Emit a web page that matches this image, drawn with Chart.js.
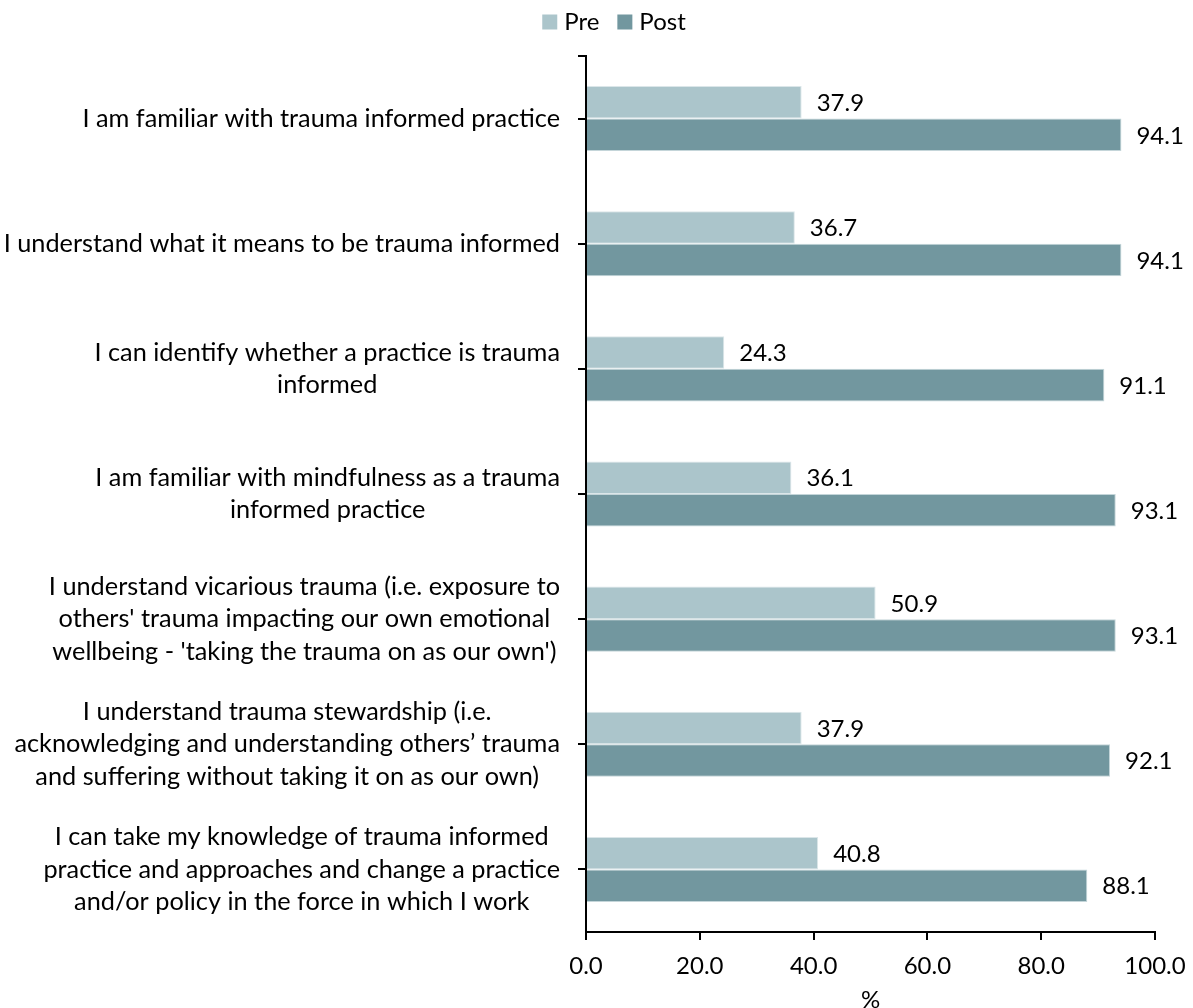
<!DOCTYPE html>
<html>
<head>
<meta charset="utf-8">
<script src="https://cdn.jsdelivr.net/npm/chart.js@4"></script>
<style>
    html, body { margin: 0; padding: 0; background: #fff; }
    #wrap { width: 1193px; height: 1008px; position: relative; }
</style>
</head>
<body>
<div id="wrap"><canvas id="chart-trauma"></canvas></div>
<script>
/* ============================================
   Trauma informed practice - pre / post survey
   ============================================ */

const statements = [
    ['I am familiar with trauma informed practice'],
    ['I understand what it means to be trauma informed'],
    ['I can identify whether a practice is trauma', 'informed'],
    ['I am familiar with mindfulness as a trauma', 'informed practice'],
    ['I understand vicarious trauma (i.e. exposure to', "others' trauma impacting our own emotional", "wellbeing - 'taking the trauma on as our own')"],
    ['I understand trauma stewardship (i.e.', 'acknowledging and understanding others\u2019 trauma', 'and suffering without taking it on as our own)'],
    ['I can take my knowledge of trauma informed', 'practice and approaches and change a practice', 'and/or policy in the force in which I work']
];

const preValues = [37.9, 36.7, 24.3, 36.1, 50.9, 37.9, 40.8];
const postValues = [94.1, 94.1, 91.1, 93.1, 93.1, 92.1, 88.1];

const xTicks = [0, 20, 40, 60, 80, 100];

const FONT = "Lato, 'Open Sans', sans-serif";
const FONT_SIZE = 24;
const LABEL_SIZE = 25.3;
const LINE_GAP = 32.5;

// Wrapped statements drawn as centred blocks, right edge next to the axis
const statementLabels = {
    id: 'statementLabels',
    afterDraw(chart) {
        const ctx = chart.ctx;
        const y = chart.scales.y;
        const right = chart.chartArea.left - 26;
        ctx.save();
        ctx.font = LABEL_SIZE + 'px ' + FONT;
        ctx.fillStyle = '#000';
        ctx.textAlign = 'center';
        ctx.textBaseline = 'middle';
        statements.forEach((lines, i) => {
            const cy = y.getPixelForValue(i);
            const w = Math.max(...lines.map(l => ctx.measureText(l).width));
            const cx = right - w / 2;
            const top = cy - (lines.length - 1) * LINE_GAP / 2;
            lines.forEach((l, j) => ctx.fillText(l, cx, top + j * LINE_GAP));
        });
        // small cap at the top of the category axis
        ctx.strokeStyle = '#000';
        ctx.lineWidth = 2;
        ctx.beginPath();
        ctx.moveTo(chart.chartArea.left - 8, chart.chartArea.top);
        ctx.lineTo(chart.chartArea.left, chart.chartArea.top);
        ctx.stroke();
        ctx.restore();
    }
};

// Legend row centred above the plot
const seriesLegend = {
    id: 'seriesLegend',
    afterDraw(chart) {
        const ctx = chart.ctx;
        const box = 15, gapText = 7, gapItem = 18, cy = 22;
        ctx.save();
        ctx.font = FONT_SIZE + 'px ' + FONT;
        ctx.textBaseline = 'middle';
        ctx.textAlign = 'left';
        const items = chart.data.datasets.map(ds => ({
            text: ds.label, color: ds.backgroundColor, w: ctx.measureText(ds.label).width
        }));
        const total = items.reduce((s, it) => s + box + gapText + it.w, 0) + gapItem * (items.length - 1);
        let x = 614 - total / 2;
        items.forEach(it => {
            ctx.fillStyle = it.color;
            ctx.fillRect(x, cy - box / 2, box, box);
            ctx.fillStyle = '#000';
            ctx.fillText(it.text, x + box + gapText, cy);
            x += box + gapText + it.w + gapItem;
        });
        ctx.restore();
    }
};

// Value labels just past the end of every bar
const valueLabels = {
    id: 'valueLabels',
    afterDatasetsDraw(chart) {
        const ctx = chart.ctx;
        ctx.save();
        ctx.font = FONT_SIZE + 'px ' + FONT;
        ctx.fillStyle = '#000';
        ctx.textAlign = 'left';
        ctx.textBaseline = 'middle';
        chart.data.datasets.forEach((ds, di) => {
            chart.getDatasetMeta(di).data.forEach((bar, i) => {
                ctx.fillText(ds.data[i].toFixed(1), bar.x + 15, bar.y + 1);
            });
        });
        ctx.restore();
    }
};

const ctx = document.getElementById('chart-trauma').getContext('2d');

new Chart(ctx, {
    type: 'bar',
    data: {
        labels: statements.map(s => s.join(' ')),
        datasets: [
            {
                label: 'Pre',
                data: preValues,
                backgroundColor: '#abc5cb',
                borderColor: '#dbe6e9',
                borderWidth: 1,
                categoryPercentage: 0.52,
                barPercentage: 1
            },
            {
                label: 'Post',
                data: postValues,
                backgroundColor: '#72979f',
                borderColor: '#c4d5d9',
                borderWidth: 1,
                categoryPercentage: 0.52,
                barPercentage: 1
            }
        ]
    },
    options: {
        indexAxis: 'y',
        responsive: true,
        maintainAspectRatio: false,
        animation: false,
        layout: { padding: { top: 56, right: 38, bottom: 0, left: 0 } },
        plugins: {
            tooltip: { enabled: false },
            legend: { display: false }
        },
        scales: {
            x: {
                min: 0,
                max: 100,
                afterBuildTicks: scale => { scale.ticks = xTicks.map(v => ({ value: v })); },
                afterFit: scale => {
                    scale.height = 76;
                    scale.paddingLeft = 0;
                    scale.paddingRight = 0;
                },
                ticks: {
                    color: '#000',
                    padding: 14,
                    font: { family: FONT, size: FONT_SIZE, lineHeight: 1 },
                    callback: val => Number(val).toFixed(1)
                },
                grid: { drawOnChartArea: false, tickLength: 8, color: '#000', lineWidth: 2 },
                border: { display: true, color: '#000', width: 2 },
                title: {
                    display: true,
                    text: '%',
                    color: '#000',
                    padding: { top: 0, bottom: -4 },
                    font: { family: FONT, size: FONT_SIZE, lineHeight: 1 }
                }
            },
            y: {
                afterFit: scale => { scale.width = 586; },
                ticks: { display: false },
                grid: { offset: false, drawOnChartArea: false, tickLength: 8, color: '#000', lineWidth: 2 },
                border: { display: true, color: '#000', width: 2 }
            }
        }
    },
    plugins: [statementLabels, seriesLegend, valueLabels]
});
</script>
</body>
</html>
